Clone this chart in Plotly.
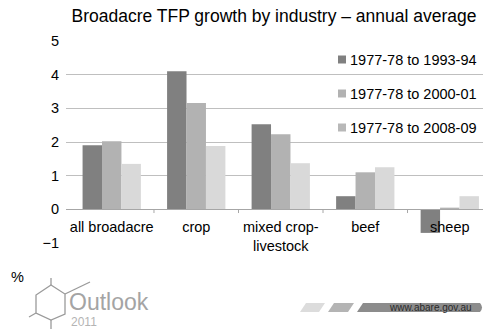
import plotly.graph_objects as go

# Annual average TFP growth (%) by broadacre industry
categories = ["all broadacre", "crop", "mixed crop-<br>livestock", "beef", "sheep"]
period_names = ["1977-78 to 1993-94", "1977-78 to 2000-01", "1977-78 to 2008-09"]
growth_1994 = [1.90, 4.10, 2.53, 0.39, -0.70]
growth_2001 = [2.02, 3.16, 2.23, 1.10, 0.05]
growth_2009 = [1.35, 1.88, 1.37, 1.25, 0.39]
y_ticks = [5, 4, 3, 2, 1, 0, -1]
y_tick_text = ["5", "4", "3", "2", "1", "0", "\u22121"]

series = [growth_1994, growth_2001, growth_2009]
bar_colors = ["#808080", "#b2b2b2", "#d9d9d9"]
swatch_colors = ["#808080", "#b2b2b2", "#b8b8b8"]

W, H = 483, 329
L, R, T, B = 66, 0, 41, 86
PW, PH = W - L - R, H - T - B
FONT = "Liberation Sans, Arial, sans-serif"


def px(x):
    return (x - L) / PW


def py(y):
    return (H - B - y) / PH


fig = go.Figure()
for name, vals, col in zip(period_names, series, bar_colors):
    fig.add_trace(go.Bar(
        x=list(range(len(categories))), y=vals, name=name,
        marker=dict(color=col, line=dict(width=0)),
        showlegend=False,
    ))

shapes = []
annotations = []

# legend: square swatches with labels
for i, (name, col) in enumerate(zip(period_names, swatch_colors)):
    yc = 59.5 + i * 34
    shapes.append(dict(type="rect", xref="paper", yref="paper",
                       x0=px(338), x1=px(346), y0=py(yc + 4), y1=py(yc - 4),
                       fillcolor=col, line=dict(width=0)))
    annotations.append(dict(text=name, xref="paper", yref="paper",
                            x=px(348), y=py(yc + 0.5), xanchor="left", yanchor="middle",
                            showarrow=False, font=dict(size=14.5, color="#000", family=FONT)))

# unit label
annotations.append(dict(text="%", xref="paper", yref="paper", x=px(9), y=py(277),
                        xanchor="left", yanchor="middle", showarrow=False,
                        font=dict(size=14.5, color="#000", family=FONT)))

# Outlook 2011 logo
logo = "#9a9a9a"
hexagon = [(51, 285), (65, 294), (65, 314), (51, 320), (36, 313), (36, 295)]
path = "M " + " L ".join(f"{px(a)},{py(b)}" for a, b in hexagon) + " Z"
shapes.append(dict(type="path", xref="paper", yref="paper", path=path,
                   line=dict(color=logo, width=1.3)))
for (a0, b0), (a1, b1) in [((51, 285), (51, 278)), ((65, 294), (90, 282)),
                           ((36, 313), (29, 317)), ((51, 320), (51, 331))]:
    shapes.append(dict(type="line", xref="paper", yref="paper",
                       x0=px(a0), y0=py(b0), x1=px(a1), y1=py(b1),
                       line=dict(color=logo, width=1.3)))
annotations.append(dict(text="Outlook", xref="paper", yref="paper", x=px(67), y=py(302),
                        xanchor="left", yanchor="middle", showarrow=False,
                        font=dict(size=23, color="#a4a4a4", family=FONT)))
annotations.append(dict(text="2011", xref="paper", yref="paper", x=px(69), y=py(321.5),
                        xanchor="left", yanchor="middle", showarrow=False,
                        font=dict(size=12, color="#b4b4b4", family=FONT)))

# web address banner
for (x0, x1, col) in [(300, 325, "#dcdcdc"), (328, 354, "#b4b4b4")]:
    p = (f"M {px(x0)},{py(312)} L {px(x0 + 6)},{py(303)} L {px(x1)},{py(303)} "
         f"L {px(x1 - 6)},{py(312)} Z")
    shapes.append(dict(type="path", xref="paper", yref="paper", path=p,
                       fillcolor=col, line=dict(width=0)))
p = (f"M {px(357)},{py(312)} L {px(363)},{py(303)} L {px(480)},{py(303)} "
     f"Q {px(484)},{py(307.5)} {px(480)},{py(312)} Z")
shapes.append(dict(type="path", xref="paper", yref="paper", path=p,
                   fillcolor="#8c8c8c", line=dict(width=0)))
annotations.append(dict(text="www.abare.gov.au", xref="paper", yref="paper",
                        x=px(474), y=py(307.5), xanchor="right", yanchor="middle",
                        showarrow=False, font=dict(size=10, color="#2a2a2a", family=FONT)))

fig.update_layout(
    width=W, height=H,
    margin=dict(l=L, r=R, t=T, b=B, pad=0),
    paper_bgcolor="white", plot_bgcolor="white",
    barmode="group", bargap=0.31, bargroupgap=0,
    title=dict(text="Broadacre TFP growth by industry \u2013 annual average",
               x=274 / W, xanchor="center", y=1 - 16 / H, yanchor="middle",
               xref="container", yref="container",
               font=dict(size=17.5, color="#000", family=FONT)),
    font=dict(family=FONT, size=14.5, color="#000"),
    showlegend=False,
    shapes=shapes,
    annotations=annotations,
    xaxis=dict(
        tickmode="array", tickvals=list(range(len(categories))), ticktext=categories,
        range=[-0.541, 4.393], anchor="free", position=1 / 6,
        showline=True, linecolor="#a6a6a6", linewidth=1,
        ticks="", showgrid=False, zeroline=False,
        ticklabelstandoff=4,
        tickfont=dict(size=14.5, color="#000", family=FONT),
        fixedrange=True,
    ),
    yaxis=dict(
        range=[-1, 5], tickvals=y_ticks, ticktext=y_tick_text,
        showgrid=True, gridcolor="#bfbfbf", gridwidth=1,
        zeroline=False, showline=False, ticks="",
        ticklabelstandoff=6,
        tickfont=dict(size=14.5, color="#000", family=FONT),
        fixedrange=True,
    ),
)

# tick marks on category boundaries along the zero line
for b in [0.5, 1.5, 2.5, 3.5]:
    fig.add_shape(type="line", xref="x", yref="y", x0=b, x1=b, y0=0, y1=-0.11,
                  line=dict(color="#a6a6a6", width=1))

fig.write_html("out.html")
